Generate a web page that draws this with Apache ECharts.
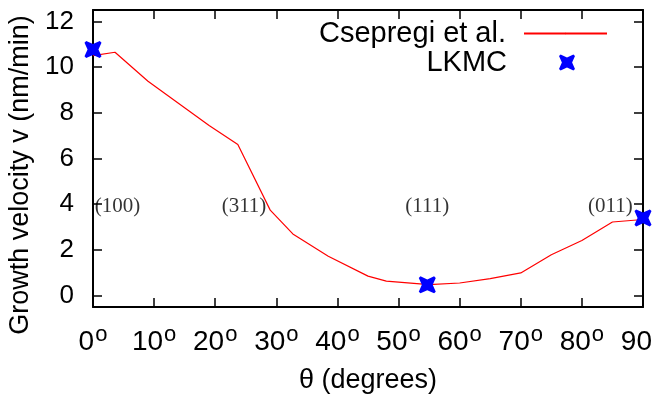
<!DOCTYPE html>
<html><head><meta charset="utf-8">
<script src="https://cdn.jsdelivr.net/npm/echarts@6/dist/echarts.min.js"></script>
<style>html,body{margin:0;padding:0;background:#fff}#c{width:652px;height:398px}</style>
</head><body><div id="c"></div>
<script>
// Csepregi et al. curve
var angles = [0, 3.6, 9, 19, 23.7, 29, 32.7, 38.5, 45, 48, 55, 60, 65, 70, 75, 80, 85, 90];
var velocities = [10.5, 10.65, 9.38, 7.44, 6.61, 3.74, 2.7, 1.72, 0.85, 0.63, 0.48, 0.55, 0.74, 0.99, 1.79, 2.41, 3.22, 3.33];
// LKMC points
var lkmcAngles = [0, 54.7, 90];
var lkmcVelocities = [10.77, 0.47, 3.40];
// plane annotations
var planeNames = ['(100)', '(311)', '(111)', '(011)'];
var planeAngles = [0.3, 21.05, 51.1, 81.0];
var planeY = [3.88, 3.88, 3.88, 3.88];
// ticks
var xTicks = [0, 10, 20, 30, 40, 50, 60, 70, 80, 90];
var yTicks = [0, 2, 4, 6, 8, 10, 12];

var sans = '"Liberation Sans", Arial, sans-serif';
var xSym = 'path://M0,1 L1,0 L5,1.8 L9,0 L10,1 L8.2,5 L10,9 L9,10 L5,8.2 L1,10 L0,9 L1.8,5 Z';

var chart = echarts.init(document.getElementById('c'), null, {renderer: 'canvas'});
var axisLine = {show: true, onZero: false, lineStyle: {color: '#000', width: 2}};
var tick = {show: true, inside: true, length: 9, lineStyle: {color: '#000', width: 1.5}};
chart.setOption({
  animation: false,
  backgroundColor: '#fff',
  grid: {left: 93, right: 9, top: 10, bottom: 91, containLabel: false, outerBoundsMode: 'none'},
  xAxis: [{
    type: 'value', min: 0, max: 90, interval: 10, position: 'bottom',
    axisLine: axisLine, axisTick: tick, splitLine: {show: false},
    axisLabel: {
      margin: 20, color: '#000', fontFamily: sans, fontSize: 28,
      customValues: xTicks,
      formatter: function (v) { return '{n|' + v + '}{s|o}'; },
      rich: {
        n: {fontSize: 28, fontFamily: sans, color: '#000', lineHeight: 30},
        s: {fontSize: 22, fontFamily: sans, color: '#000', lineHeight: 15, padding: [0, 0, 15, 1]}
      }
    },
    name: 'θ (degrees)', nameLocation: 'middle', nameGap: 60,
    nameTextStyle: {color: '#000', fontFamily: sans, fontSize: 27}
  }, {
    type: 'value', min: 0, max: 90, interval: 10, position: 'top',
    axisLine: axisLine, axisTick: tick, axisLabel: {show: false}, splitLine: {show: false}
  }],
  yAxis: [{
    type: 'value', min: -0.5, max: 12.5, position: 'left',
    axisLine: axisLine,
    axisTick: {show: true, inside: true, length: 9, lineStyle: {color: '#000', width: 1.5}, customValues: yTicks},
    splitLine: {show: false},
    axisLabel: {margin: 19, color: '#000', fontFamily: sans, fontSize: 26, customValues: yTicks}
  }, {
    type: 'value', min: -0.5, max: 12.5, position: 'right',
    axisLine: axisLine,
    axisTick: {show: true, inside: true, length: 9, lineStyle: {color: '#000', width: 1.5}, customValues: yTicks},
    splitLine: {show: false}, axisLabel: {show: false}
  }],
  legend: [{
    data: ['Csepregi et al.'],
    orient: 'vertical', right: 44, top: 19, padding: 0,
    align: 'right', itemWidth: 83, itemHeight: 2,
    formatter: function (n) { return n + '{g|}'; },
    textStyle: {color: '#000', fontFamily: sans, fontSize: 29, rich: {g: {width: 13}}}
  }, {
    data: ['LKMC'], orient: 'vertical', right: 77, top: 48, padding: 0,
    align: 'right', itemWidth: 16, itemHeight: 16,
    formatter: function (n) { return n + '{g|}'; },
    textStyle: {color: '#000', fontFamily: sans, fontSize: 29, rich: {g: {width: 47}}}
  }],
  graphic: [{
    type: 'text', x: 21, y: 175, rotation: Math.PI / 2,
    style: {text: 'Growth velocity v (nm/min)', fill: '#000', font: '27px ' + sans, textAlign: 'center', textVerticalAlign: 'middle'}
  }],
  series: [{
    name: 'Csepregi et al.', type: 'line', symbol: 'none',
    lineStyle: {color: '#ff0000', width: 1.2}, itemStyle: {color: '#ff0000'},
    data: angles.map(function (a, i) { return [a, velocities[i]]; }), z: 2
  }, {
    name: 'LKMC', type: 'scatter', symbol: xSym, symbolSize: 17, clip: false,
    itemStyle: {color: '#0000ff', opacity: 1},
    data: lkmcAngles.map(function (a, i) { return [a, lkmcVelocities[i]]; }), z: 4
  }, {
    name: 'planes', type: 'scatter', symbolSize: 0, clip: false, silent: true,
    label: {show: true, position: 'right', distance: 0, formatter: '{b}',
      color: '#000', fontFamily: '"Liberation Serif", "Times New Roman", serif', fontSize: 21},
    data: planeNames.map(function (n, i) { return {name: n, value: [planeAngles[i], planeY[i]]}; }), z: 3
  }]
});
</script></body></html>
